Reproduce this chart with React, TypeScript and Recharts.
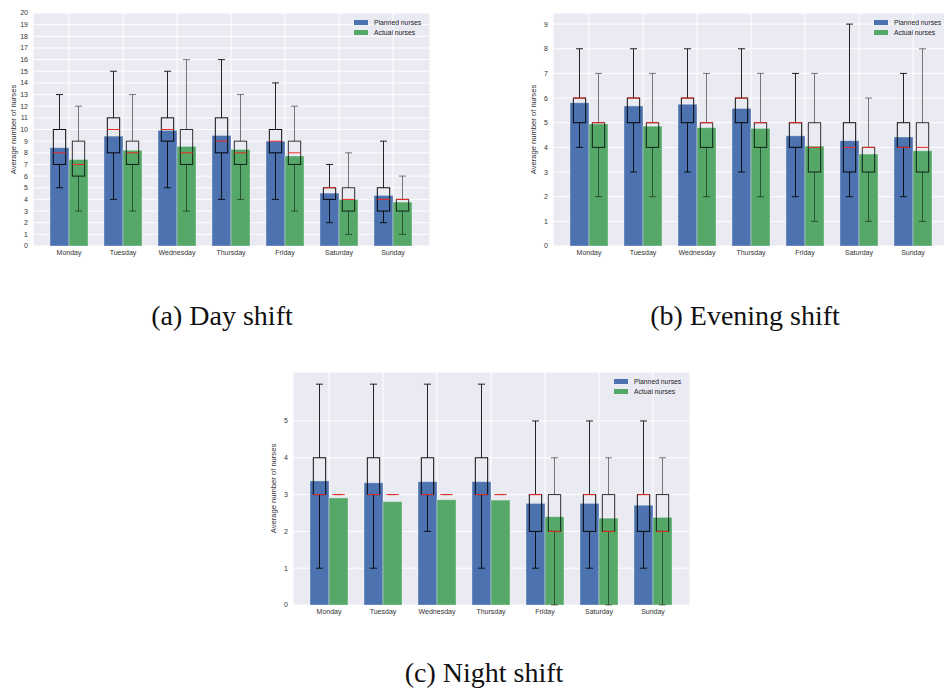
import React from "react";
import { ComposedChart, Bar, XAxis, YAxis, CartesianGrid, Legend } from "recharts";

const days = ["Monday", "Tuesday", "Wednesday", "Thursday", "Friday", "Saturday", "Sunday"];
const seriesNames = ["Planned nurses", "Actual nurses"];

// box stats are [min, q1, median, q3, max]
const dayPlanned = [8.44, 9.43, 9.92, 9.49, 9.0, 4.54, 4.34];
const dayActual = [7.42, 8.22, 8.55, 8.29, 7.73, 4.0, 3.77];
const dayPlannedBox = [[5, 7, 8, 10, 13], [4, 8, 10, 11, 15], [5, 9, 10, 11, 15], [4, 8, 9, 11, 16], [4, 8, 9, 10, 14], [2, 4, 5, 5, 7], [2, 3, 4, 5, 9]];
const dayActualBox = [[3, 6, 7, 9, 12], [3, 7, 8, 9, 13], [3, 7, 8, 10, 16], [4, 7, 8, 9, 13], [3, 7, 8, 9, 12], [1, 3, 4, 5, 8], [1, 3, 4, 4, 6]];
const dayTicks = [0, 1, 2, 3, 4, 5, 6, 7, 8, 9, 10, 11, 12, 13, 14, 15, 16, 17, 18, 19, 20];

const eveningPlanned = [5.81, 5.68, 5.75, 5.58, 4.47, 4.27, 4.42];
const eveningActual = [4.95, 4.86, 4.8, 4.77, 4.05, 3.73, 3.86];
const eveningPlannedBox = [[4, 5, 6, 6, 8], [3, 5, 6, 6, 8], [3, 5, 6, 6, 8], [3, 5, 6, 6, 8], [2, 4, 5, 5, 7], [2, 3, 4, 5, 9], [2, 4, 4, 5, 7]];
const eveningActualBox = [[2, 4, 5, 5, 7], [2, 4, 5, 5, 7], [2, 4, 5, 5, 7], [2, 4, 5, 5, 7], [1, 3, 4, 5, 7], [1, 3, 4, 4, 6], [1, 3, 4, 5, 8]];
const eveningTicks = [0, 1, 2, 3, 4, 5, 6, 7, 8, 9];

const nightPlanned = [3.37, 3.32, 3.35, 3.35, 2.76, 2.76, 2.71];
const nightActual = [2.91, 2.81, 2.86, 2.85, 2.4, 2.36, 2.38];
const nightPlannedBox = [[1, 3, 3, 4, 6], [1, 3, 3, 4, 6], [2, 3, 3, 4, 6], [1, 3, 3, 4, 6], [1, 2, 3, 3, 5], [1, 2, 3, 3, 5], [1, 2, 3, 3, 5]];
const nightActualBox = [[3, 3, 3, 3, 3], [3, 3, 3, 3, 3], [3, 3, 3, 3, 3], [3, 3, 3, 3, 3], [0, 2, 2, 3, 4], [0, 2, 2, 3, 4], [0, 2, 2, 3, 4]];
const nightTicks = [0, 1, 2, 3, 4, 5];

const FONT = '"Liberation Sans", Arial, sans-serif';
const BLUE = "#4C72B0";
const GREEN = "#55A868";

// bar with a box plot drawn over it, using the bar's own y mapping
const boxShape = (key: "planned" | "actual", boxKey: "pBox" | "aBox", boxOp: number, whiskerOp: number) =>
  (props: any) => {
    const { x, y, width, height, fill, payload } = props;
    const v = payload[key];
    const [mn, q1, med, q3, mx] = payload[boxKey];
    const base = y + height;
    const py = (n: number) => base - (n / v) * height;
    const cx = x + width / 2;
    const bw = width * 0.65;
    const cw = width * 0.37;
    return (
      <g>
        <rect x={x} y={y} width={width} height={height} fill={fill} stroke="#fff" strokeOpacity={0.35} />
        <g stroke="#000" strokeWidth={1} fill="none">
          <line x1={cx} x2={cx} y1={py(q1)} y2={py(mn)} strokeOpacity={whiskerOp} />
          <line x1={cx} x2={cx} y1={py(q3)} y2={py(mx)} strokeOpacity={whiskerOp} />
          <line x1={cx - cw / 2} x2={cx + cw / 2} y1={py(mn)} y2={py(mn)} strokeOpacity={whiskerOp} />
          <line x1={cx - cw / 2} x2={cx + cw / 2} y1={py(mx)} y2={py(mx)} strokeOpacity={whiskerOp} />
          <rect x={cx - bw / 2} y={py(q3)} width={bw} height={py(q1) - py(q3)} strokeOpacity={boxOp} />
        </g>
        <line x1={cx - bw / 2} x2={cx + bw / 2} y1={py(med)} y2={py(med)} stroke="#ee2a24" strokeWidth={1} />
      </g>
    );
  };

const LegendContent = (props: any) => {
  const items = [...(props.payload || [])].sort(
    (a: any, b: any) => seriesNames.indexOf(a.value) - seriesNames.indexOf(b.value)
  );
  return (
    <div style={{ fontFamily: FONT, fontSize: 6.8, color: "#222" }}>
      {items.map((p: any) => (
        <div key={p.value} style={{ display: "flex", alignItems: "center", height: 10 }}>
          <span style={{ display: "inline-block", width: 14, height: 5, background: p.color, marginRight: 6 }} />
          {p.value}
        </div>
      ))}
    </div>
  );
};

const ShiftChart = ({ planned, actual, plannedBox, actualBox, yMax, yTicks }: any) => {
  const rows = days.map((day, i) => ({
    day,
    planned: planned[i],
    actual: actual[i],
    pBox: plannedBox[i],
    aBox: actualBox[i],
  }));
  return (
    <ComposedChart width={440} height={262} data={rows} margin={{ top: 13, right: 10, bottom: 0, left: 0 }} barGap={0}>
      <CartesianGrid fill="#EAEAF2" stroke="#fff" strokeWidth={1} />
      <XAxis
        dataKey="day"
        axisLine={false}
        tickLine={false}
        height={16}
        padding={{ left: 9, right: 10 }}
        interval={0}
        tickSize={3}
        tickMargin={1}
        tick={{ fontSize: 7, fill: "#333", fontFamily: FONT }}
      />
      <YAxis
        type="number"
        domain={[0, yMax]}
        ticks={yTicks}
        interval={0}
        width={33}
        axisLine={false}
        tickLine={false}
        tickSize={4}
        tickMargin={1}
        tick={{ fontSize: 7, fill: "#333", fontFamily: FONT }}
        label={{
          value: "Average number of nurses",
          angle: -90,
          position: "insideLeft",
          offset: 13,
          style: { textAnchor: "middle", fontSize: 7.6, fill: "#333", fontFamily: FONT },
        }}
      />
      <Legend
        layout="vertical"
        align="center"
        verticalAlign="middle"
        wrapperStyle={{ left: 354, top: 17, width: 80, height: 20 }}
        content={LegendContent}
      />
      <Bar dataKey="planned" name={seriesNames[0]} fill={BLUE} barSize={19} shape={boxShape("planned", "pBox", 0.95, 0.85)} isAnimationActive={false} />
      <Bar dataKey="actual" name={seriesNames[1]} fill={GREEN} barSize={19} shape={boxShape("actual", "aBox", 0.8, 0.5)} isAnimationActive={false} />
    </ComposedChart>
  );
};

const captionStyle: React.CSSProperties = {
  position: "absolute",
  width: 300,
  textAlign: "center",
  fontFamily: '"Liberation Serif", "Times New Roman", serif',
  fontSize: 28,
  lineHeight: "28px",
  color: "#111",
  whiteSpace: "nowrap",
};

export default function App() {
  return (
    <div style={{ position: "absolute", left: 0, top: 0, width: 944, height: 690, overflow: "hidden", background: "#fff" }}>
      <div style={{ position: "absolute", left: 0, top: 0 }}>
        <ShiftChart planned={dayPlanned} actual={dayActual} plannedBox={dayPlannedBox} actualBox={dayActualBox} yMax={20} yTicks={dayTicks} />
      </div>
      <div style={{ position: "absolute", left: 520, top: 0 }}>
        <ShiftChart planned={eveningPlanned} actual={eveningActual} plannedBox={eveningPlannedBox} actualBox={eveningActualBox} yMax={9.45} yTicks={eveningTicks} />
      </div>
      <div style={{ position: "absolute", left: 260, top: 359 }}>
        <ShiftChart planned={nightPlanned} actual={nightActual} plannedBox={nightPlannedBox} actualBox={nightActualBox} yMax={6.33} yTicks={nightTicks} />
      </div>
      <div style={{ ...captionStyle, left: 222 - 150, top: 302 }}>(a) Day shift</div>
      <div style={{ ...captionStyle, left: 745 - 150, top: 302 }}>(b) Evening shift</div>
      <div style={{ ...captionStyle, left: 484 - 150, top: 659 }}>(c) Night shift</div>
    </div>
  );
}
